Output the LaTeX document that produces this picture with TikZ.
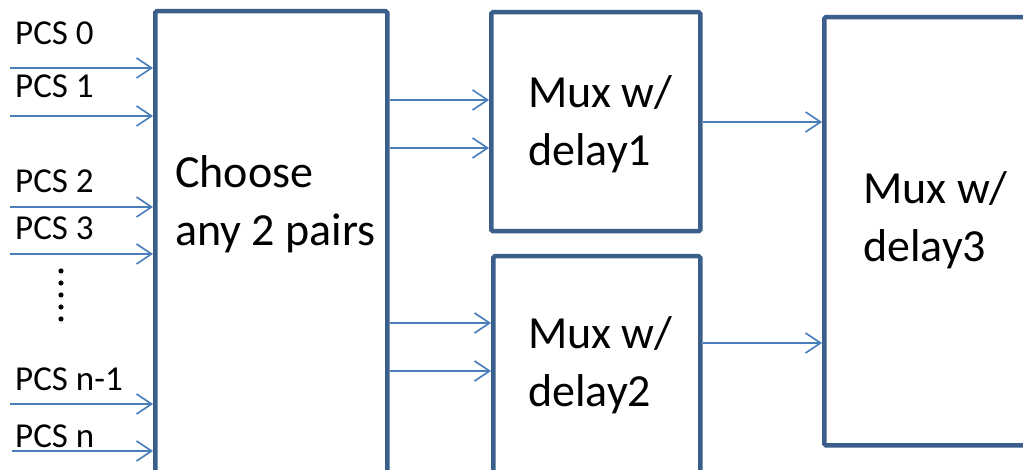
\documentclass[tikz,border=0pt]{standalone}
\usepackage{fontspec}
\setmainfont{Carlito}
\usetikzlibrary{arrows.meta}
\definecolor{boxblue}{HTML}{3A5F8B}
\definecolor{wireblue}{HTML}{4A7EBB}
\tikzset{
  blk/.style={draw=boxblue, line width=4.5pt, rounded corners=1.5pt, inner sep=0pt, fill=none},
  wire/.style={draw=wireblue, line width=1.6pt, -{Straight Barb[length=15pt, width=20pt, line width=1.6pt]}},
  pcs/.style={anchor=base west, inner sep=0pt, font=\fontsize{35}{42}\selectfont},
  big/.style={anchor=base west, inner sep=0pt, align=left, font=\fontsize{46}{58}\selectfont},
}
\begin{document}
\begin{tikzpicture}[x=1pt, y=-1pt]
  \useasboundingbox (0,0) rectangle (1023,470);
  \fill[white] (0,0) rectangle (1023,470);
  \clip (0,0) rectangle (1023,470);

  % blocks
  \node[blk, anchor=north west, minimum width=232pt, minimum height=520pt] (choose) at (153,9) {};
  \node[blk, anchor=north west, minimum width=209pt, minimum height=219pt] (mux1) at (489,10) {};
  \node[blk, anchor=north west, minimum width=207pt, minimum height=300pt] (mux2) at (491,254) {};
  \node[blk, anchor=north west, minimum width=300pt, minimum height=428pt] (mux3) at (822,15) {};

  % block texts (base anchor sits on the last line)
  \node[big] (choosetxt) at (175,246) {Choose\\any 2 pairs};
  \node[big] (mux1txt) at (528,166) {Mux w/\\delay1};
  \node[big] (mux2txt) at (528,406) {Mux w/\\delay2};
  \node[big] (mux3txt) at (863,262) {Mux w/\\delay3};

  % input labels
  \node[pcs] (l0) at (15,45) {PCS 0};
  \node[pcs] (l1) at (15,98) {PCS 1};
  \node[pcs] (l2) at (15,193) {PCS 2};
  \node[pcs] (l3) at (15,240) {PCS 3};
  \node[pcs] (ln1) at (15,390) {PCS n-1};
  \node[pcs] (ln) at (15,447) {PCS n};

  % input wires
  \coordinate (i0) at (10,68);
  \coordinate (i1) at (10,116);
  \coordinate (i2) at (10,207);
  \coordinate (i3) at (10,254);
  \coordinate (in1) at (10,404);
  \coordinate (in) at (12,451);
  \foreach \c in {i0,i1,i2,i3,in1,in}
    \draw[wire] (\c) -- (\c -| choose.west);

  % vertical ellipsis
  \foreach \yy in {271,283,295,307,319}
    \fill (61,\yy) circle (2.6pt);

  % choose -> mux1 / mux2
  \draw[wire] (choose.east |- {(0,100)}) -- (mux1.west |- {(0,100)});
  \draw[wire] (choose.east |- {(0,148)}) -- (mux1.west |- {(0,148)});
  \draw[wire] (choose.east |- {(0,323)}) -- (mux2.west |- {(0,323)});
  \draw[wire] (choose.east |- {(0,371)}) -- (mux2.west |- {(0,371)});

  % mux1 / mux2 -> mux3
  \draw[wire] (mux1.east |- {(0,122)}) -- (mux3.west |- {(0,122)});
  \draw[wire] (mux2.east |- {(0,343)}) -- (mux3.west |- {(0,343)});
\end{tikzpicture}
\end{document}
